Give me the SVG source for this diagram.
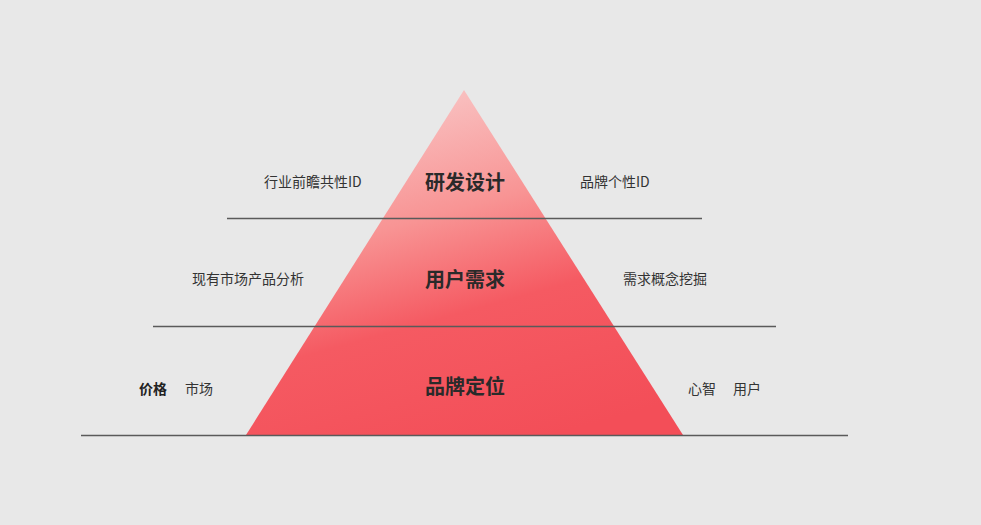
<svg xmlns="http://www.w3.org/2000/svg" width="981" height="525" viewBox="0 0 981 525">
<style>
.side{font-family:"Noto Sans CJK SC","Liberation Sans",sans-serif;font-size:14px;fill:#333}
.sideb{font-family:"Noto Sans CJK SC","Liberation Sans",sans-serif;font-size:14px;fill:#222;font-weight:bold}
.main{font-family:"Noto Sans CJK SC","Liberation Sans",sans-serif;font-size:20px;font-weight:bold;fill:#2a2a2a;text-anchor:middle}
.rule{stroke:#5a5a5a;stroke-width:1.3;fill:none}
</style>
<defs>
<linearGradient id="g" x1="0.35" y1="0" x2="0.7" y2="1">
<stop offset="0" stop-color="#f9c6c6"/>
<stop offset="0.35" stop-color="#f89494"/>
<stop offset="0.62" stop-color="#f55a62"/>
<stop offset="1" stop-color="#f34e58"/>
</linearGradient>
</defs>
<rect width="981" height="525" fill="#e8e8e8"/>
<g id="pyramid">
<polygon points="464,90 683,435 246,435" fill="url(#g)"/>
</g>
<g id="connectors">
<line class="rule" x1="227" y1="218.5" x2="702" y2="218.5"/>
<line class="rule" x1="153" y1="326.5" x2="776" y2="326.5"/>
<line class="rule" x1="81" y1="435.5" x2="848" y2="435.5"/>
</g>
<g id="level1">
<text class="main" x="465" y="190">研发设计</text>
<text class="side" x="264" y="187">行业前瞻共性ID</text>
<text class="side" x="580" y="187">品牌个性ID</text>
</g>
<g id="level2">
<text class="main" x="465" y="287">用户需求</text>
<text class="side" x="192" y="284">现有市场产品分析</text>
<text class="side" x="623" y="284">需求概念挖掘</text>
</g>
<g id="level3">
<text class="main" x="465" y="394">品牌定位</text>
<text class="sideb" x="139" y="394">价格</text>
<text class="side" x="185" y="394">市场</text>
<text class="side" x="688" y="394">心智</text>
<text class="side" x="733" y="394">用户</text>
</g>
</svg>
